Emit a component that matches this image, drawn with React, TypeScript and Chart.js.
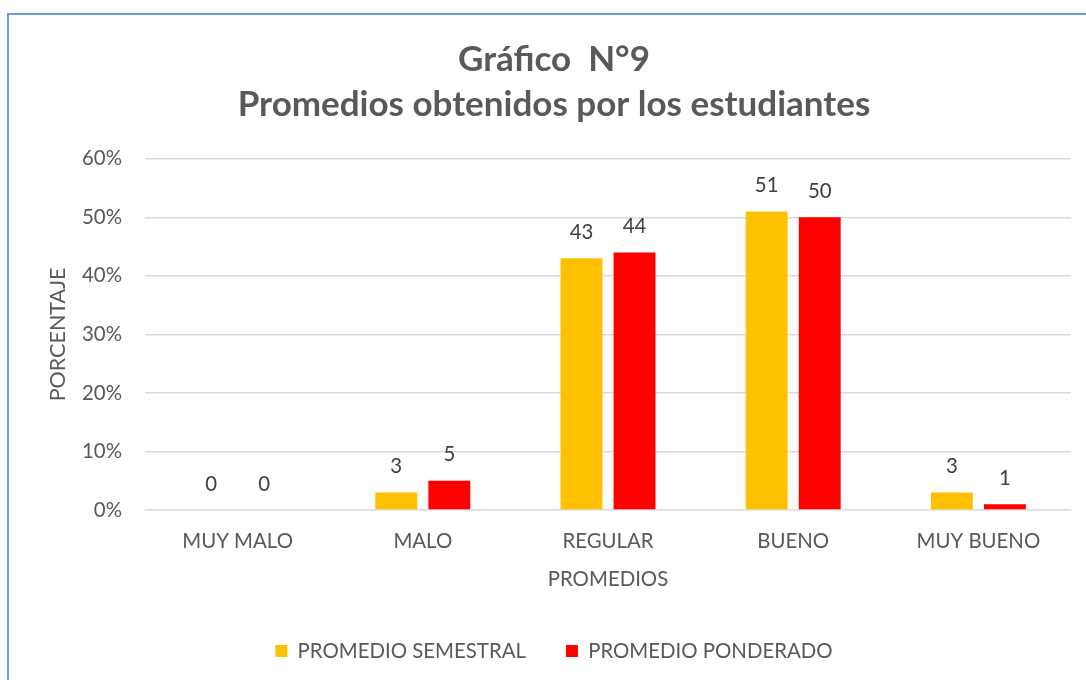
import React, { useEffect, useRef } from "react";
import { Chart, registerables } from "chart.js";

Chart.register(...registerables);

const titleLines = ["Gráfico  N°9", "Promedios obtenidos por los estudiantes"];
const categories = ["MUY MALO", "MALO", "REGULAR", "BUENO", "MUY BUENO"];
const seriesNames = ["PROMEDIO SEMESTRAL", "PROMEDIO PONDERADO"];
const semestral = [0, 3, 43, 51, 3];
const ponderado = [0, 5, 44, 50, 1];
const yTicks = [0, 10, 20, 30, 40, 50, 60];
const yTitle = "PORCENTAJE";
const xTitle = "PROMEDIOS";

const FONT = "Lato";
const TEXT = "#595959";

const valueLabels = {
  id: "valueLabels",
  afterDatasetsDraw(chart: any) {
    const ctx = chart.ctx;
    ctx.save();
    ctx.font = `normal 20.4px "${FONT}"`;
    ctx.fillStyle = "#404040";
    ctx.textAlign = "center";
    ctx.textBaseline = "middle";
    chart.data.datasets.forEach((ds: any, di: number) => {
      const meta = chart.getDatasetMeta(di);
      meta.data.forEach((bar: any, i: number) => {
        ctx.fillText(String(ds.data[i]), bar.x, bar.y - 26);
      });
    });
    ctx.restore();
  },
};

export default function App() {
  const ref = useRef<HTMLCanvasElement>(null);
  useEffect(() => {
    if (!ref.current) return;
    const chart = new Chart(ref.current, {
      type: "bar",
      data: {
        labels: categories,
        datasets: [
          {
            label: seriesNames[0],
            data: semestral,
            backgroundColor: "#FFC000",
            categoryPercentage: 0.573,
            barPercentage: 0.79,
          },
          {
            label: seriesNames[1],
            data: ponderado,
            backgroundColor: "#FF0000",
            categoryPercentage: 0.573,
            barPercentage: 0.79,
          },
        ],
      },
      options: {
        responsive: false,
        animation: false,
        layout: { padding: { left: 0, right: 0, top: 0, bottom: 48.8 } },
        plugins: {
          title: {
            display: true,
            text: titleLines,
            color: TEXT,
            font: { family: FONT, size: 35, weight: "bold", lineHeight: 45 / 35 },
            padding: { top: 37.5, bottom: 31.3 },
          },
          legend: {
            position: "bottom",
            labels: {
              color: TEXT,
              font: { family: FONT, size: 20.4 },
              boxWidth: 12,
              boxHeight: 12,
              padding: 40,
            },
          },
          tooltip: { enabled: false },
        },
        scales: {
          x: {
            grid: { display: false, drawTicks: false },
            border: { display: false },
            ticks: { color: TEXT, font: { family: FONT, size: 20.4 }, padding: 19 },
            title: {
              display: true,
              text: xTitle,
              color: TEXT,
              font: { family: FONT, size: 20.4 },
              padding: { top: -5.66, bottom: 9.5 },
            },
          },
          y: {
            min: 0,
            max: 60,
            afterBuildTicks: (s: any) => {
              s.ticks = yTicks.map((v) => ({ value: v }));
            },
            afterFit: (s: any) => {
              s.width = 145;
            },
            grid: { color: "#d9d9d9", lineWidth: 1.5, drawTicks: false },
            border: { display: false },
            ticks: {
              color: TEXT,
              font: { family: FONT, size: 20.4 },
              padding: 23,
              callback: (v: any) => v + "%",
            },
            title: {
              display: true,
              text: yTitle,
              color: TEXT,
              font: { family: FONT, size: 21.5 },
              padding: { top: 45, bottom: 0 },
            },
          },
          yRight: {
            type: "linear",
            position: "right",
            display: true,
            grid: { display: false, drawTicks: false },
            border: { display: false },
            ticks: { display: false },
            afterFit: (s: any) => {
              s.width = 37;
            },
          },
        },
      },
      plugins: [valueLabels],
    });
    return () => chart.destroy();
  }, []);

  return (
    <div
      style={{
        position: "absolute",
        left: 0,
        top: 0,
        width: 1086,
        height: 680,
        overflow: "hidden",
        background: "#ffffff",
      }}
    >
      <div
        style={{
          position: "absolute",
          left: 7,
          top: 13,
          width: 1120,
          height: 720,
          borderLeft: "2px solid #6c9fd8",
          borderTop: "2px solid #6c9fd8",
          background: "#ffffff",
        }}
      />
      <canvas
        ref={ref}
        width={1108}
        height={720}
        style={{ position: "absolute", left: 0, top: 0, width: 1108, height: 720 }}
      />
    </div>
  );
}
